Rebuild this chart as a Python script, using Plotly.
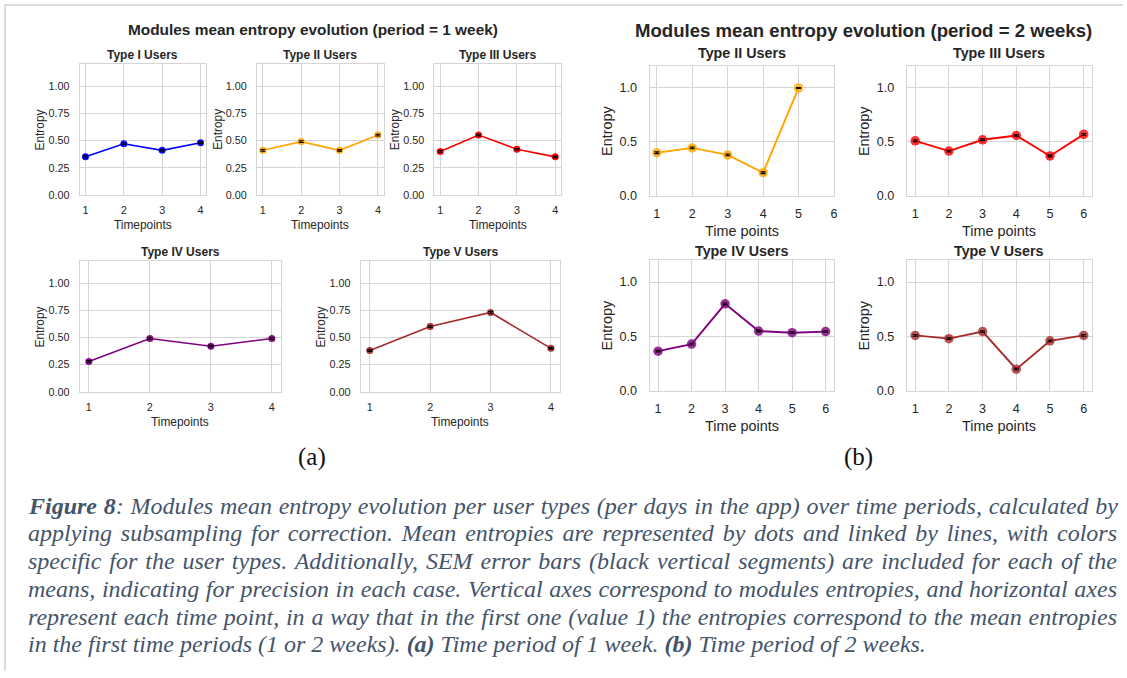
import plotly.graph_objects as go

W, H = 1127, 678

# ---- data -----------------------------------------------------------------
timepoints_1w = [1, 2, 3, 4]
timepoints_2w = [1, 2, 3, 4, 5, 6]

# period = 1 week
w1_type1 = [0.35, 0.47, 0.41, 0.48]
w1_type2 = [0.41, 0.49, 0.41, 0.55]
w1_type3 = [0.40, 0.55, 0.42, 0.35]
w1_type4 = [0.28, 0.49, 0.42, 0.49]
w1_type5 = [0.38, 0.60, 0.73, 0.40]
w1_sem1 = [0.008, 0.007, 0.007, 0.008]
w1_sem2 = [0.008, 0.008, 0.007, 0.008]
w1_sem3 = [0.008, 0.008, 0.007, 0.007]
w1_sem4 = [0.008, 0.008, 0.007, 0.008]
w1_sem5 = [0.008, 0.008, 0.008, 0.007]

# period = 2 weeks (Type II users only reach time point 5)
w2_type2 = [0.40, 0.445, 0.38, 0.215, 1.00]
w2_type3 = [0.51, 0.415, 0.52, 0.56, 0.37, 0.57]
w2_type4 = [0.365, 0.43, 0.80, 0.55, 0.535, 0.545]
w2_type5 = [0.51, 0.48, 0.545, 0.20, 0.46, 0.51]
w2_sem2 = [0.008, 0.008, 0.008, 0.008, 0.004]
w2_sem3 = [0.008, 0.008, 0.008, 0.008, 0.008, 0.008]
w2_sem4 = [0.008, 0.008, 0.008, 0.008, 0.008, 0.008]
w2_sem5 = [0.008, 0.008, 0.008, 0.008, 0.008, 0.008]

ticks_1w = [1, 2, 3, 4]
ticks_2w = [1, 2, 3, 4, 5, 6]
yticks_1w = [0.0, 0.25, 0.5, 0.75, 1.0]
yticks_2w = [0.0, 0.5, 1.0]

caption_lines = [
    "<b>Figure 8</b>: Modules mean entropy evolution per user types (per days in the app) over time periods, calculated by",
    "applying subsampling for correction. Mean entropies are represented by dots and linked by lines, with colors",
    "specific for the user types. Additionally, SEM error bars (black vertical segments) are included for each of the",
    "means, indicating for precision in each case. Vertical axes correspond to modules entropies, and horizontal axes",
    "represent each time point, in a way that in the first one (value 1) the entropies correspond to the mean entropies",
    "in the first time periods (1 or 2 weeks). <b>(a)</b> Time period of 1 week. <b>(b)</b> Time period of 2 weeks.",
]

# ---- styling ---------------------------------------------------------------
SANS = "Liberation Sans, Arial, sans-serif"
SERIF = "Liberation Serif, Times New Roman, serif"
INK = "#262626"
GRID = "#d5d5d5"

small = dict(title=12, tick=10.8, label=11.9, marker=7, line=1.6, mop=0.95,
             ypad=7, xpad=5, xlab_off=30, ylab_off=40, yfmt=".2f", yticks=yticks_1w)
large = dict(title=14.3, tick=12.6, label=14.4, marker=9.5, line=1.9, mop=0.8,
             ypad=9, xpad=6, xlab_off=35, ylab_off=43, yfmt=".1f", yticks=yticks_2w)

# name, x, y, sem, colour, pixel box (x0, y0, x1, y1), title gap, x range, x ticks, style, x label
panels = [
    ("Type I Users", timepoints_1w, w1_type1, w1_sem1, "#0000ff", (80, 65, 207, 197), 9, [0.85, 4.15], ticks_1w, small, "Timepoints"),
    ("Type II Users", timepoints_1w, w1_type2, w1_sem2, "#ffa500", (258, 65, 385, 197), 9, [0.85, 4.15], ticks_1w, small, "Timepoints"),
    ("Type III Users", timepoints_1w, w1_type3, w1_sem3, "#ff0000", (436, 65, 563, 197), 9, [0.85, 4.15], ticks_1w, small, "Timepoints"),
    ("Type IV Users", timepoints_1w, w1_type4, w1_sem4, "#800080", (80, 264, 282, 396), 9, [0.85, 4.15], ticks_1w, small, "Timepoints"),
    ("Type V Users", timepoints_1w, w1_type5, w1_sem5, "#a52a2a", (362, 264, 562, 396), 9, [0.85, 4.15], ticks_1w, small, "Timepoints"),
    ("Type II Users", timepoints_2w[:5], w2_type2, w2_sem2, "#ffa500", (652, 67, 837, 198), 13, [0.8, 6.0], ticks_2w, large, "Time points"),
    ("Type III Users", timepoints_2w, w2_type3, w2_sem3, "#ff0000", (910, 67, 1096, 198), 13, [0.75, 6.25], ticks_2w, large, "Time points"),
    ("Type IV Users", timepoints_2w, w2_type4, w2_sem4, "#800080", (652, 263, 837, 395), 9, [0.75, 6.25], ticks_2w, large, "Time points"),
    ("Type V Users", timepoints_2w, w2_type5, w2_sem5, "#a52a2a", (910, 263, 1096, 395), 9, [0.75, 6.25], ticks_2w, large, "Time points"),
]


def px(x):
    return x / W


def py(y):
    return 1 - y / H


fig = go.Figure()
annotations = []
layout_axes = {}

for i, (name, xs, ys, sem, color, box, tgap, xr, xt, st, xlab) in enumerate(panels, start=1):
    x0, y0, x1, y1 = box
    xa = "x" if i == 1 else f"x{i}"
    ya = "y" if i == 1 else f"y{i}"

    fig.add_trace(go.Scatter(
        x=xs, y=ys, mode="lines+markers", xaxis=xa, yaxis=ya,
        line=dict(color=color, width=st["line"]),
        marker=dict(color=color, size=st["marker"], opacity=st["mop"]),
        showlegend=False, hoverinfo="skip",
    ))
    # SEM error bars drawn on top of the markers
    fig.add_trace(go.Scatter(
        x=xs, y=ys, mode="markers", xaxis=xa, yaxis=ya,
        marker=dict(color=color, size=1, opacity=0),
        error_y=dict(type="data", array=sem, visible=True, color="#000000",
                     thickness=1.1, width=2.5),
        showlegend=False, hoverinfo="skip",
    ))

    common = dict(showline=True, mirror=True, linecolor=GRID, linewidth=1.2,
                  showgrid=True, gridcolor=GRID, gridwidth=1, zeroline=False,
                  ticks="outside", tickcolor="rgba(0,0,0,0)",
                  tickfont=dict(family=SANS, size=st["tick"], color=INK))
    layout_axes["xaxis" if i == 1 else f"xaxis{i}"] = dict(
        common, domain=[px(x0), px(x1)], anchor=ya, range=xr,
        tickmode="array", tickvals=xt, ticklen=st["xpad"])
    layout_axes["yaxis" if i == 1 else f"yaxis{i}"] = dict(
        common, domain=[py(y1), py(y0)], anchor=xa, range=[0, 1.2],
        tickmode="array", tickvals=st["yticks"], tickformat=st["yfmt"],
        ticklen=st["ypad"])

    cx = (x0 + x1) / 2
    cy = (y0 + y1) / 2
    annotations.append(dict(text=f"<b>{name}</b>", x=px(cx), y=py(y0 - tgap),
                            xref="paper", yref="paper", xanchor="center", yanchor="middle",
                            showarrow=False, font=dict(family=SANS, size=st["title"], color=INK)))
    annotations.append(dict(text=xlab, x=px(cx), y=py(y1 + st["xlab_off"]),
                            xref="paper", yref="paper", xanchor="center", yanchor="middle",
                            showarrow=False, font=dict(family=SANS, size=st["label"], color=INK)))
    annotations.append(dict(text="Entropy", x=px(x0 - st["ylab_off"]), y=py(cy), textangle=-90,
                            xref="paper", yref="paper", xanchor="center", yanchor="middle",
                            showarrow=False, font=dict(family=SANS, size=st["label"], color=INK)))

# figure titles
annotations.append(dict(text="<b>Modules mean entropy evolution (period = 1 week)</b>",
                        x=px(314), y=py(30), xref="paper", yref="paper",
                        xanchor="center", yanchor="middle", showarrow=False,
                        font=dict(family=SANS, size=15.4, color=INK)))
annotations.append(dict(text="<b>Modules mean entropy evolution (period = 2 weeks)</b>",
                        x=px(867), y=py(31), xref="paper", yref="paper",
                        xanchor="center", yanchor="middle", showarrow=False,
                        font=dict(family=SANS, size=18.6, color=INK)))

# panel letters
for letter, lx in (("(a)", 313), ("(b)", 862)):
    annotations.append(dict(text=letter, x=px(lx), y=py(462), xref="paper", yref="paper",
                            xanchor="center", yanchor="middle", showarrow=False,
                            font=dict(family=SERIF, size=25, color="#111111")))

# caption
CAP_LEFT, CAP_RIGHT = 26, 1115
caption_index = []
for k, line in enumerate(caption_lines):
    caption_index.append(len(annotations))
    annotations.append(dict(text=f"<i>{line}</i>", x=px(CAP_LEFT), y=py(511 + 28 * k),
                            xref="paper", yref="paper", xanchor="left", yanchor="middle",
                            align="left", showarrow=False,
                            font=dict(family=SERIF, size=24, color="#44546a")))

# thin page frame on top and left
shapes = [
    dict(type="line", xref="paper", yref="paper", x0=px(5), x1=1, y0=py(5), y1=py(5),
         line=dict(color="#d0d0d0", width=1.5)),
    dict(type="line", xref="paper", yref="paper", x0=px(5), x1=px(5), y0=0, y1=py(5),
         line=dict(color="#d0d0d0", width=1.5)),
]

fig.update_layout(
    width=W, height=H, margin=dict(l=0, r=0, t=0, b=0),
    paper_bgcolor="white", plot_bgcolor="white",
    annotations=annotations, shapes=shapes, **layout_axes,
)

# justify all caption lines except the last one by widening word spacing
justify = caption_index[:-1]
post_script = """
var gd = document.getElementById('{plot_id}');
var lines = %s;
var target = %d;
gd.querySelectorAll('g.annotation').forEach(function (g) {
  var idx = parseInt(g.getAttribute('data-index'));
  if (lines.indexOf(idx) < 0) return;
  var t = g.querySelector('text.annotation-text');
  if (!t) return;
  var w = t.getComputedTextLength();
  var n = (t.textContent.match(/ /g) || []).length;
  if (n > 0 && w < target) t.style.wordSpacing = ((target - w) / n) + 'px';
});
""" % (str(justify), CAP_RIGHT - CAP_LEFT)

fig.write_html("out.html", post_script=post_script)
